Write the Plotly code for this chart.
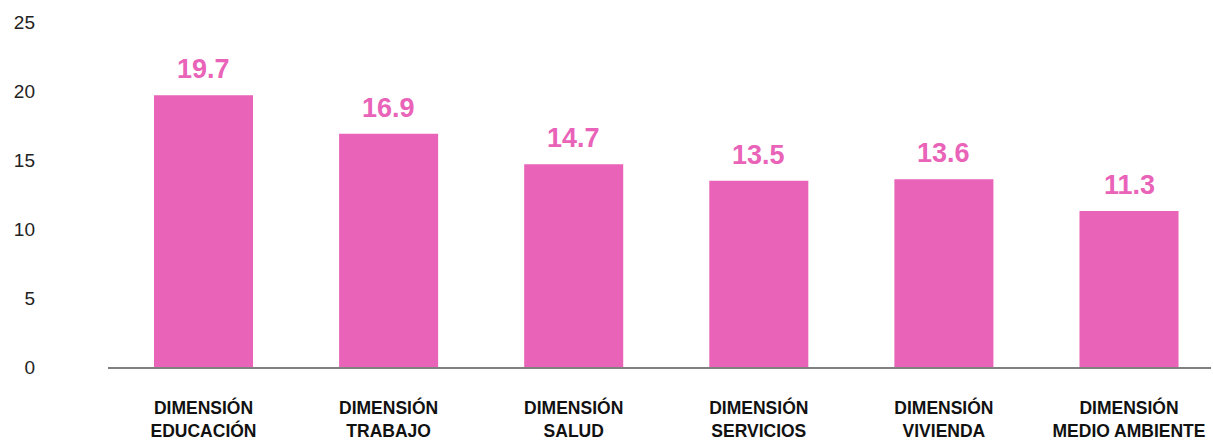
import plotly.graph_objects as go

categories = ["DIMENSIÓN<br>EDUCACIÓN", "DIMENSIÓN<br>TRABAJO", "DIMENSIÓN<br>SALUD",
              "DIMENSIÓN<br>SERVICIOS", "DIMENSIÓN<br>VIVIENDA", "DIMENSIÓN<br>MEDIO AMBIENTE"]
values = [19.7, 16.9, 14.7, 13.5, 13.6, 11.3]
y_ticks = [0, 5, 10, 15, 20, 25]

PINK = "#E963B8"
FONT = "Liberation Sans, Arial, Helvetica, sans-serif"

fig = go.Figure()
fig.add_trace(go.Bar(
    x=categories, y=values, marker=dict(color=PINK, line=dict(width=0)),
    width=0.535, hoverinfo="skip"
))

for c, v in zip(categories, values):
    fig.add_annotation(x=c, y=v, text=f"<b>{v:.1f}</b>", showarrow=False,
                       yanchor="bottom", yshift=9,
                       font=dict(family=FONT, size=27, color=PINK))

fig.update_layout(
    width=1213, height=441,
    margin=dict(l=108, r=2, t=22, b=74),
    paper_bgcolor="white", plot_bgcolor="white",
    showlegend=False,
    font=dict(family=FONT),
    xaxis=dict(
        range=[-0.516, 5.443], showline=True, linecolor="#808080", linewidth=2,
        showgrid=False, zeroline=False, ticks="", automargin=False,
        tickfont=dict(family=FONT, size=17.5, color="#111111", weight="bold"),
        ticklabelstandoff=24,
    ),
    yaxis=dict(
        range=[0, 25], tickvals=y_ticks, ticktext=[str(t) for t in y_ticks],
        showgrid=False, zeroline=False, showline=False, ticks="", automargin=False,
        tickfont=dict(family=FONT, size=19, color="#222222"),
        ticklabelstandoff=72,
    ),
)

fig.write_html("out.html")
